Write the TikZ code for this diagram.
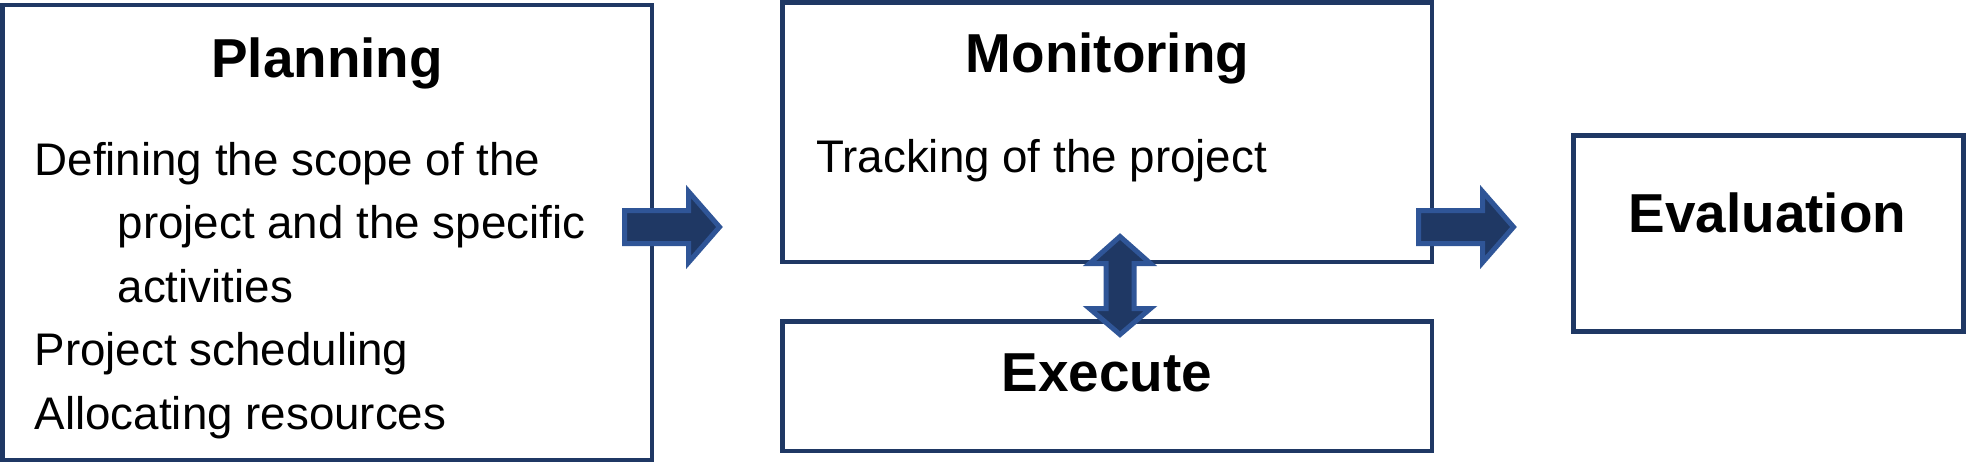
\documentclass[tikz,border=0pt]{standalone}
\usepackage{fontspec}
\setmainfont{Liberation Sans}
\usetikzlibrary{positioning}
\definecolor{navy}{RGB}{31,56,100}
\definecolor{edgeblue}{RGB}{47,85,151}
\tikzset{
  box/.style={draw=navy, line width=1.28pt, inner sep=0pt},
  head/.style={font=\fontsize{15.6}{18}\selectfont\bfseries, inner sep=0pt, anchor=base},
  item/.style={font=\fontsize{13}{15.6}\selectfont, inner sep=0pt, anchor=base west},
  blockarrow/.style={fill=navy, draw=edgeblue, line width=1.42pt, line join=miter},
  rarrow/.pic={\filldraw[blockarrow] (0,-16.5) -- (64,-16.5) -- (64,-35.5) -- (95,0) -- (64,35.5) -- (64,16.5) -- (0,16.5) -- cycle;}
}

\begin{document}
\begin{tikzpicture}[x=0.01cm, y=-0.01cm]
    \useasboundingbox (0,0) rectangle (1966,463);
    % boxes
    \node[box, minimum width=6.495cm, minimum height=4.55cm] (plan) at (327.25,232.5) {};
    \node[box, minimum width=6.495cm, minimum height=2.595cm] (mon) at (1107.25,132.25) {};
    \node[box, minimum width=6.495cm, minimum height=1.295cm] (exe) at (1107.25,386.25) {};
    \node[box, minimum width=3.9cm, minimum height=1.96cm] (eval) at (1768.5,233.5) {};
    % titles
    \node[head] (plan-title) at (327,77) {Planning};
    \node[head] (mon-title) at (1107.5,72.7) {Monitoring};
    \node[head] (exe-title) at (1107,391.7) {Execute};
    \node[head] (eval-title) at (1767.5,232.7) {Evaluation};
    % planning items
    \foreach \i/\x/\y/\txt in {1/34/175/Defining the scope of the, 2/117/238.5/project and the specific, 3/117/302/activities, 4/34/365.5/Project scheduling, 5/34/429/Allocating resources} {
        \node[item] (plan-\i) at (\x,\y) {\txt};
    }
    \node[item] (mon-1) at (815.6,172.7) {Tracking of the project};
    % block arrows
    \coordinate (a1) at (624.5,227);
    \coordinate (a2) at (1418.5,227);
    \pic at (a1) {rarrow};
    \pic at (a2) {rarrow};
    \filldraw[blockarrow] (1120,236.5) -- (1150.5,263.5) -- (1134,263.5) -- (1134,308.5) -- (1150.5,308.5) -- (1120,334.5) -- (1089.5,308.5) -- (1106,308.5) -- (1106,263.5) -- (1089.5,263.5) -- cycle;
\end{tikzpicture}
\end{document}
